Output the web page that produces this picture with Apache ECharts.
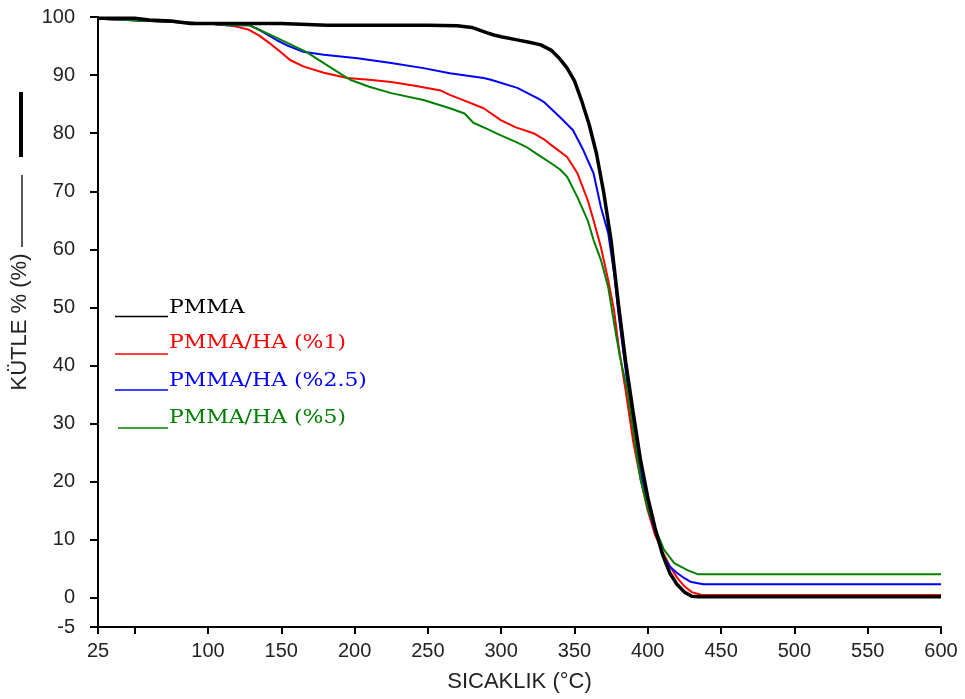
<!DOCTYPE html>
<html>
<head>
<meta charset="utf-8">
<script src="https://cdn.jsdelivr.net/npm/echarts@6/dist/echarts.min.js"></script>
<style>html,body{margin:0;padding:0;background:#fff}#c{width:965px;height:699px}</style>
</head>
<body>
<div id="c"></div>
<script>
// ---- data ----
var seriesNames = ['PMMA', 'PMMA/HA (%1)', 'PMMA/HA (%2.5)', 'PMMA/HA (%5)'];
var seriesColors = ['#000000', '#ff0000', '#0000ff', '#008000'];

var pmmaT = [25, 50, 60, 75, 88, 100, 150, 181, 200, 250, 270, 280, 290, 295, 300, 310, 320, 327, 334, 340, 345, 350, 355, 360, 365, 370, 375, 380, 385, 390, 395, 400, 405, 410, 415, 420, 425, 430, 435, 600];
var pmmaW = [99.8, 99.8, 99.5, 99.3, 98.9, 98.9, 98.9, 98.6, 98.6, 98.6, 98.5, 98.2, 97.3, 96.9, 96.6, 96.1, 95.6, 95.2, 94.3, 92.8, 91.2, 89.0, 85.5, 81.5, 76.5, 69.7, 61.5, 50.5, 40.5, 32.0, 23.8, 17.3, 12.0, 7.5, 4.3, 2.3, 1.0, 0.3, 0.2, 0.2];

var ha1T = [25, 100, 113, 120, 128, 135, 142, 150, 156, 165, 179, 195, 210, 225, 240, 258, 265, 275, 288, 300, 310, 322, 330, 336, 345, 352, 359, 363, 368, 373, 377, 380, 385, 390, 395, 400, 405, 410, 415, 420, 425, 430, 437, 600];
var ha1W = [99.7, 98.9, 98.6, 98.3, 97.8, 96.8, 95.5, 93.9, 92.6, 91.5, 90.4, 89.5, 89.2, 88.8, 88.2, 87.4, 86.6, 85.6, 84.3, 82.2, 81.0, 80.0, 78.8, 77.6, 75.9, 73.1, 68.5, 65.0, 60.4, 54.7, 49.5, 43.5, 35.5, 27.0, 20.5, 15.0, 10.8, 8.0, 5.5, 3.5, 2.0, 1.0, 0.5, 0.5];

var ha25T = [25, 100, 113, 128, 135, 147, 155, 165, 179, 202, 225, 247, 265, 288, 293, 311, 325, 329, 340, 349, 356, 363, 368, 373, 377, 380, 385, 390, 395, 400, 405, 411, 415, 420, 425, 429, 435, 438, 600];
var ha25W = [99.7, 98.9, 98.6, 98.6, 97.8, 96.0, 95.0, 94.0, 93.5, 92.9, 92.1, 91.2, 90.3, 89.5, 89.2, 87.8, 86.0, 85.4, 82.8, 80.5, 77.1, 73.1, 67.3, 62.8, 55.9, 49.0, 39.0, 29.5, 21.5, 15.5, 11.5, 7.0, 5.4, 4.3, 3.4, 2.8, 2.5, 2.35, 2.35];

var ha5T = [25, 100, 113, 128, 135, 147, 157, 167, 175, 183, 190, 197, 210, 225, 247, 265, 275, 281, 290, 299, 310, 318, 325, 333, 340, 345, 352, 359, 363, 368, 373, 377, 381, 386, 390, 395, 400, 405, 411, 418, 427, 434, 600];
var ha5W = [99.7, 98.9, 98.6, 98.6, 97.8, 96.4, 95.2, 94.0, 92.7, 91.4, 90.3, 89.2, 88.0, 86.9, 85.7, 84.3, 83.4, 81.8, 80.8, 79.7, 78.5, 77.5, 76.3, 75.0, 73.8, 72.5, 69.0, 65.0, 61.6, 58.2, 53.5, 47.3, 41.5, 35.8, 28.9, 20.5, 15.3, 12.0, 8.3, 6.0, 4.8, 4.1, 4.1];

var xTicks = [25, 50, 100, 150, 200, 250, 300, 350, 400, 450, 500, 550, 600];
var xLabels = [25, 100, 150, 200, 250, 300, 350, 400, 450, 500, 550, 600];
var yTicks = [-5, 0, 10, 20, 30, 40, 50, 60, 70, 80, 90, 100];

function pairs(t, w) { return t.map(function (v, i) { return [v, w[i]]; }); }

var seriesData = [pairs(pmmaT, pmmaW), pairs(ha1T, ha1W), pairs(ha25T, ha25W), pairs(ha5T, ha5W)];

var chart = echarts.init(document.getElementById('c'), null, { renderer: 'canvas' });

var series = [];
// draw colored first, PMMA on top
[1, 2, 3, 0].forEach(function (i) {
  series.push({
    name: seriesNames[i],
    type: 'line',
    data: seriesData[i],
    showSymbol: false,
    symbol: 'none',
    z: i === 0 ? 5 : 3,
    lineStyle: { color: seriesColors[i], width: i === 0 ? 3.5 : 2 },
    itemStyle: { color: seriesColors[i] }
  });
});

// legend drawn as graphics (line + coloured serif text)
var legendLineY = [316.5, 354, 390, 428];
var legendTextY = [308, 343, 381, 418];
var legendX0 = [115, 115, 115, 118];
var graphics = [];
seriesNames.forEach(function (n, i) {
  graphics.push({
    type: 'line', silent: true,
    shape: { x1: legendX0[i], y1: legendLineY[i], x2: 168, y2: legendLineY[i] },
    style: { stroke: seriesColors[i], lineWidth: 1.5 }
  });
  graphics.push({
    type: 'text', silent: true,
    x: 169, y: legendTextY[i], scaleX: 1.22,
    style: { text: n, fill: seriesColors[i], font: '18px "DejaVu Serif"', textVerticalAlign: 'middle', verticalAlign: 'middle' }
  });
});
// decorations next to y-axis title
graphics.push({ type: 'rect', silent: true, shape: { x: 19, y: 92, width: 4, height: 65 }, style: { fill: '#000' } });
graphics.push({ type: 'line', silent: true, shape: { x1: 22, y1: 175, x2: 22, y2: 247 }, style: { stroke: '#000', lineWidth: 1.3 } });

chart.setOption({
  animation: false,
  backgroundColor: '#ffffff',
  grid: { left: 98, right: 24, top: 17, bottom: 72, containLabel: false },
  xAxis: {
    type: 'value', min: 25, max: 600,
    name: 'SICAKLIK (°C)', nameLocation: 'middle', nameGap: 44,
    nameTextStyle: { fontFamily: 'Liberation Sans', fontSize: 22, color: '#222' },
    axisLine: { show: true, onZero: false, lineStyle: { color: '#000', width: 2 } },
    axisTick: { show: true, customValues: xTicks, length: 7, lineStyle: { color: '#000', width: 2 } },
    axisLabel: { customValues: xLabels, fontFamily: 'Liberation Sans', fontSize: 20, color: '#222', margin: 14 },
    splitLine: { show: false }
  },
  yAxis: {
    type: 'value', min: -5, max: 100,
    name: 'KÜTLE % (%)', nameLocation: 'middle', nameGap: 63, nameRotate: 90,
    nameTextStyle: { fontFamily: 'Liberation Sans', fontSize: 22, color: '#222' },
    axisLine: { show: true, onZero: false, lineStyle: { color: '#000', width: 2 } },
    axisTick: { show: true, customValues: yTicks, length: 8, lineStyle: { color: '#000', width: 2 } },
    axisLabel: { customValues: yTicks, fontFamily: 'Liberation Sans', fontSize: 20, color: '#222', margin: 23 },
    splitLine: { show: false }
  },
  graphic: graphics,
  series: series
});
</script>
</body>
</html>
